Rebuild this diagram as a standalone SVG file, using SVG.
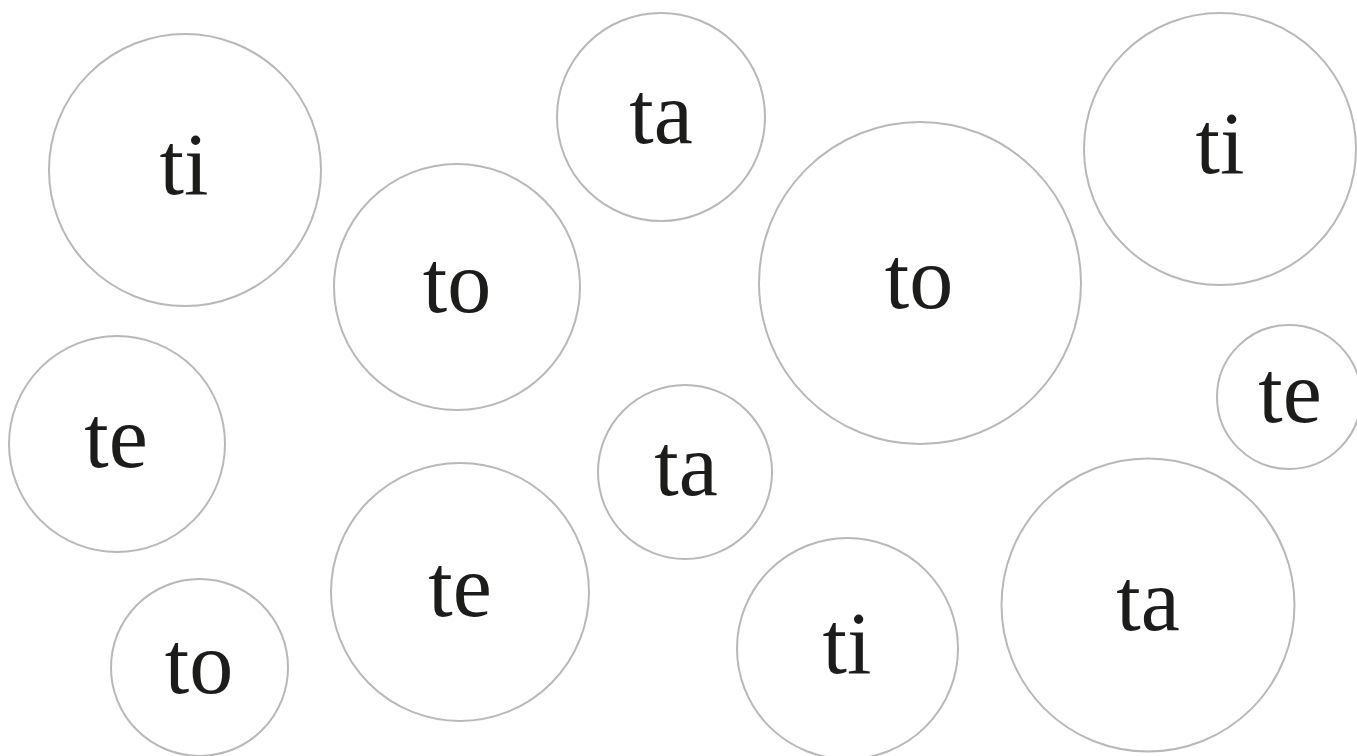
<svg xmlns="http://www.w3.org/2000/svg" width="1357" height="756" viewBox="0 0 1357 756">
<style>
.n circle{fill:#ffffff;stroke:#b8b8b8;stroke-width:2}
.n text{font-family:"Liberation Serif","Times New Roman",serif;font-size:88px;fill:#1c1c1a;text-anchor:middle}
</style>
<rect width="1357" height="756" fill="#ffffff"/>
<g id="connectors"></g>
<g id="n1" class="n"><circle cx="185" cy="170" r="136"/><text x="184" y="194">ti</text></g>
<g id="n2" class="n"><circle cx="457" cy="287" r="123"/><text x="457" y="312">to</text></g>
<g id="n3" class="n"><circle cx="661" cy="117" r="104"/><text x="661" y="143">ta</text></g>
<g id="n4" class="n"><circle cx="920" cy="283" r="161"/><text x="919" y="308">to</text></g>
<g id="n5" class="n"><circle cx="1220" cy="149" r="136"/><text x="1220" y="173">ti</text></g>
<g id="n6" class="n"><circle cx="1289" cy="397" r="72"/><text x="1290" y="422">te</text></g>
<g id="n7" class="n"><circle cx="117" cy="444" r="108"/><text x="116" y="467">te</text></g>
<g id="n8" class="n"><circle cx="685" cy="472" r="87"/><text x="686" y="495">ta</text></g>
<g id="n9" class="n"><circle cx="460" cy="592" r="129"/><text x="460" y="616">te</text></g>
<g id="n10" class="n"><circle cx="199.5" cy="667.5" r="88.5"/><text x="199" y="693">to</text></g>
<g id="n11" class="n"><circle cx="847.5" cy="648.5" r="110.5"/><text x="847" y="673">ti</text></g>
<g id="n12" class="n"><circle cx="1148" cy="605" r="146.5"/><text x="1148" y="630">ta</text></g>
</svg>
